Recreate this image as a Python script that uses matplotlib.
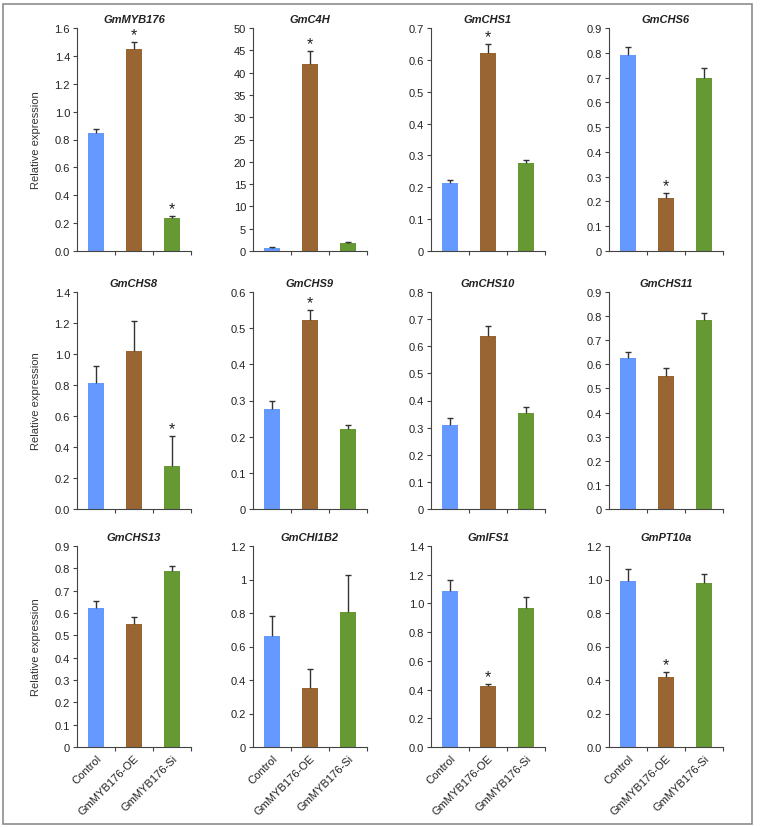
import matplotlib
matplotlib.use("Agg")
import matplotlib.pyplot as plt
from matplotlib.patches import Rectangle
from matplotlib.ticker import FixedLocator

plt.rcParams['font.family'] = ['Liberation Sans', 'DejaVu Sans']

# groups and genes
groups = ['Control', 'GmMYB176-OE', 'GmMYB176-Si']
genes = ['GmMYB176', 'GmC4H', 'GmCHS1', 'GmCHS6',
         'GmCHS8', 'GmCHS9', 'GmCHS10', 'GmCHS11',
         'GmCHS13', 'GmCHI1B2', 'GmIFS1', 'GmPT10a']

# mean relative expression per group
control_mean = [0.845, 0.7, 0.213, 0.79, 0.815, 0.277, 0.31, 0.625, 0.623, 0.66, 1.085, 0.99]
oe_mean = [1.45, 42.0, 0.62, 0.215, 1.02, 0.522, 0.638, 0.553, 0.552, 0.35, 0.425, 0.42]
si_mean = [0.235, 1.8, 0.277, 0.70, 0.28, 0.22, 0.355, 0.782, 0.787, 0.805, 0.97, 0.98]

# standard errors (upper error bar only)
control_err = [0.03, 0.25, 0.01, 0.035, 0.11, 0.022, 0.025, 0.027, 0.03, 0.12, 0.075, 0.07]
oe_err = [0.05, 2.8, 0.03, 0.02, 0.19, 0.028, 0.035, 0.03, 0.03, 0.115, 0.015, 0.025]
si_err = [0.015, 0.3, 0.01, 0.04, 0.19, 0.012, 0.02, 0.03, 0.025, 0.22, 0.075, 0.055]

# groups marked with * (index into groups)
stars = [[1, 2], [1], [1], [1], [2], [1], [], [], [], [], [1], [1]]

# y axis: max, step, label style ('f1' one decimal, 'g' general, 'int')
y_max = [1.6, 50, 0.7, 0.9, 1.4, 0.6, 0.8, 0.9, 0.9, 1.2, 1.4, 1.2]
y_step = [0.2, 5, 0.1, 0.1, 0.2, 0.1, 0.1, 0.1, 0.1, 0.2, 0.2, 0.2]
y_style = ['f1', 'int', 'g', 'g', 'f1', 'g', 'g', 'g', 'g', 'g', 'f1', 'f1']

colors = ['#6699FF', '#996633', '#669933']
W, H = 764, 828
col_left = [77, 253, 431, 609]
ax_width = 114
row_top = [29, 293, 547]
row_bottom = [252, 510, 748]
fs = 8


def fmt_label(v, style):
    if style == 'f1':
        return '%.1f' % v
    if style == 'int':
        return '%d' % round(v)
    return ('%.1f' % v).rstrip('0').rstrip('.') if v != 0 else '0'


fig = plt.figure(figsize=(W / 100, H / 100), dpi=100)
fig.patches.append(Rectangle((3 / W, 1 - 825 / H), 749 / W, 820 / H,
                             transform=fig.transFigure, fill=False,
                             edgecolor='#8c8c8c', linewidth=1.2))

for i, gene in enumerate(genes):
    r, c = divmod(i, 4)
    ax = fig.add_axes([col_left[c] / W, 1 - row_bottom[r] / H,
                       ax_width / W, (row_bottom[r] - row_top[r]) / H])
    means = [control_mean[i], oe_mean[i], si_mean[i]]
    errs = [control_err[i], oe_err[i], si_err[i]]
    x = [0, 1, 2]
    ax.bar(x, means, width=0.41, color=colors, zorder=2)
    tops = [m + e for m, e in zip(means, errs)]
    ax.vlines(x, means, tops, color='#333333', linewidth=1.0, zorder=3)
    ax.hlines(tops, [xi - 0.08 for xi in x], [xi + 0.08 for xi in x],
              color='#333333', linewidth=1.0, zorder=3)
    for g in stars[i]:
        ax.annotate('*', (x[g], tops[g]), xytext=(0, 0), textcoords='offset points',
                    ha='center', va='bottom', fontsize=11.5, color='#222222')

    ax.set_xlim(-0.5, 2.5)
    ax.set_ylim(0, y_max[i])
    n = int(round(y_max[i] / y_step[i]))
    yt = [k * y_step[i] for k in range(n + 1)]
    ax.set_yticks(yt)
    ax.set_yticklabels([fmt_label(v, y_style[i]) for v in yt])

    ax.xaxis.set_major_locator(FixedLocator([0.5, 1.5, 2.5]))
    ax.xaxis.set_major_formatter(plt.NullFormatter())
    if r == 2:
        ax.set_xticks(x, minor=True)
        ax.set_xticklabels(groups, minor=True, rotation=45, ha='right',
                           rotation_mode='anchor', fontsize=fs, color='#222222')
    ax.tick_params(axis='x', which='minor', length=0, pad=4)
    ax.tick_params(axis='x', which='major', direction='out', length=3, width=0.8,
                   color='#444444')
    ax.tick_params(axis='y', direction='out', length=3, width=0.8, color='#444444',
                   labelsize=fs, labelcolor='#222222', pad=2)

    for s in ['top', 'right']:
        ax.spines[s].set_visible(False)
    for s in ['left', 'bottom']:
        ax.spines[s].set_color('#444444')
        ax.spines[s].set_linewidth(0.8)

    ax.set_title(gene, fontsize=fs, fontweight='bold', fontstyle='italic', pad=4,
                 color='#222222')
    if c == 0:
        ax.set_ylabel('Relative expression', fontsize=fs, color='#333333')
        ax.yaxis.set_label_coords(-0.32, 0.5)

fig.savefig('out.png', dpi=100)
